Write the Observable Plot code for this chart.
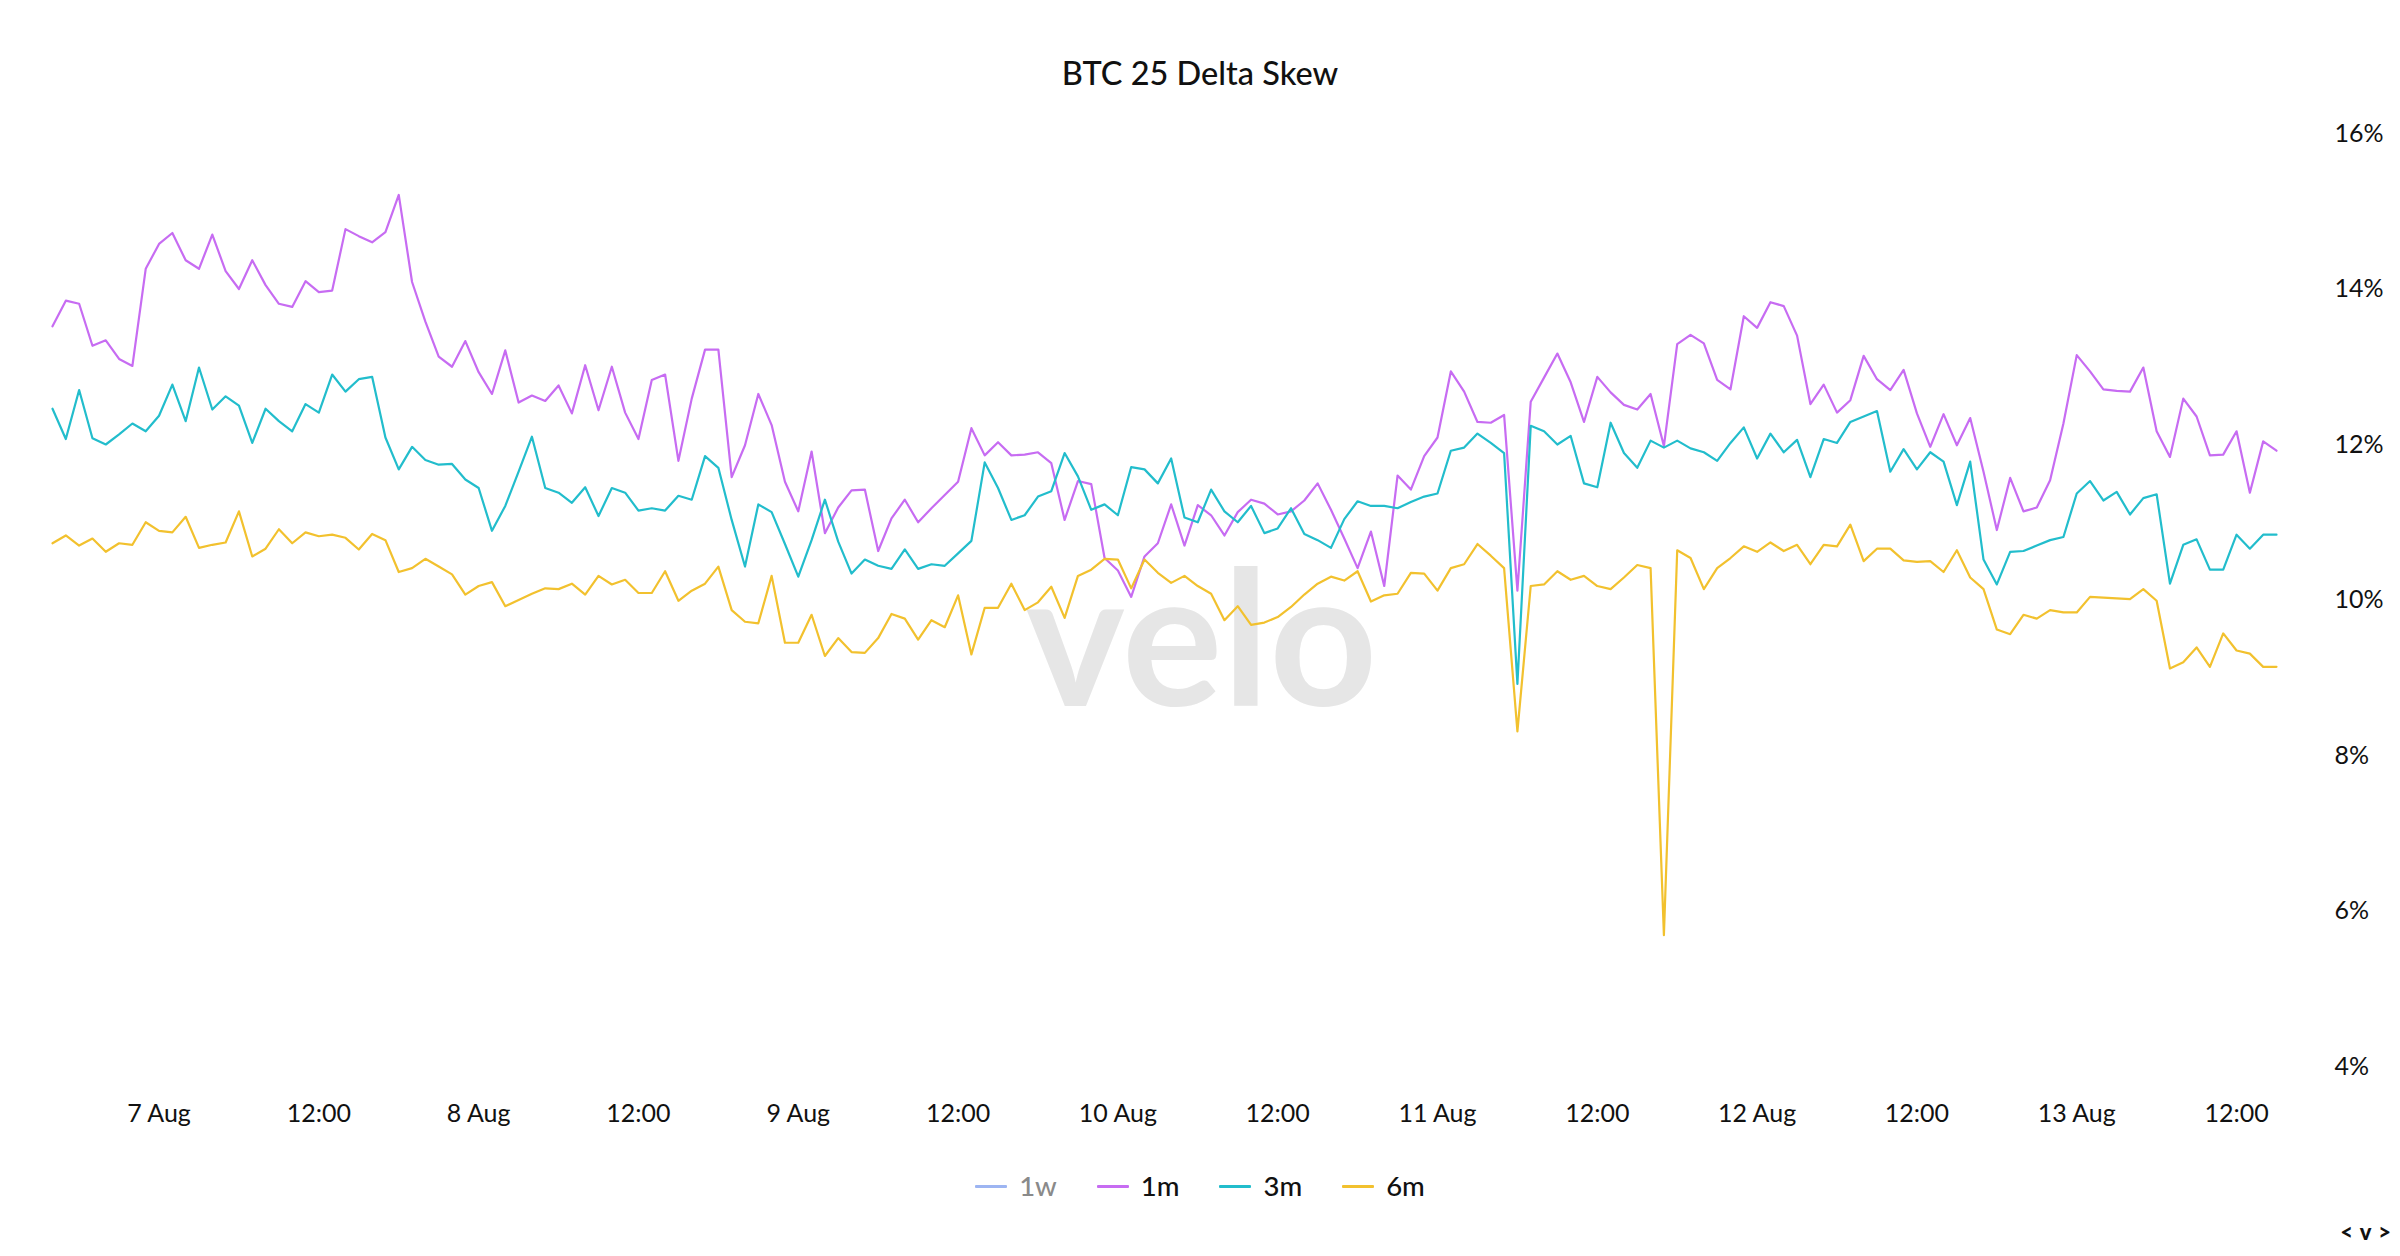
<!DOCTYPE html>
<html>
<head>
<meta charset="utf-8">
<script src="https://cdn.jsdelivr.net/npm/d3@7"></script>
<script src="https://cdn.jsdelivr.net/npm/@observablehq/plot@0.6"></script>
<style>
  html, body { margin: 0; padding: 0; background: #fff; }
  body { width: 2400px; height: 1256px; position: relative; overflow: hidden; font-family: Lato, "Noto Sans", sans-serif; color: #111; }
  #title { position: absolute; left: 0; top: 50px; width: 2400px; text-align: center; font-size: 32.5px; font-weight: 500; line-height: 46px; }
  #chart { position: absolute; left: 0; top: 110px; }
  #legend { position: absolute; left: 0; top: 1166px; width: 2400px; display: flex; justify-content: center; gap: 40px; font-size: 27.5px; font-weight: 500; line-height: 40px; }
  .item { display: flex; align-items: center; gap: 12px; }
  .sw { width: 32px; height: 3px; border-radius: 1px; }
  #nav { position: absolute; right: 8px; top: 1218px; font-size: 22px; font-weight: 900; letter-spacing: 1px; }
</style>
</head>
<body>
<div id="title">BTC 25 Delta Skew</div>
<div id="chart"></div>
<div id="legend"></div>
<div id="nav">&lt; v &gt;</div>
<script>
// Hourly samples from 6 Aug 16:00 to 13 Aug 15:00 (UTC)
const startTime = Date.UTC(2024, 7, 6, 16);
const seriesNames = ["1w", "1m", "3m", "6m"];
const seriesColors = ["#9db5f2", "#c76cf2", "#22bdcc", "#f2c12e"];
const hiddenSeries = ["1w"];

const skew1m = [
  13.52, 13.85, 13.81, 13.27, 13.34, 13.10, 13.01, 14.26, 14.58, 14.72, 14.37, 14.26, 14.70, 14.23, 14.00, 14.37, 14.05, 13.81, 13.77, 14.10, 13.96, 13.98, 14.77, 14.68, 14.60, 14.73, 15.21, 14.09, 13.58, 13.13, 13.00, 13.33, 12.93, 12.65, 13.21, 12.54, 12.63, 12.56, 12.76, 12.40, 13.02, 12.44,
  13.00, 12.41, 12.07, 12.83, 12.90, 11.79, 12.59, 13.22, 13.22, 11.58, 11.99, 12.65, 12.25, 11.52, 11.14, 11.91, 10.86, 11.19, 11.41, 11.42, 10.63, 11.05, 11.29, 11.00, 11.18, 11.35, 11.52, 12.21, 11.86, 12.03, 11.86, 11.87, 11.90, 11.76, 11.03, 11.53, 11.49, 10.54, 10.38, 10.04, 10.56,
  10.73, 11.23, 10.70, 11.22, 11.09, 10.83, 11.13, 11.29, 11.24, 11.10, 11.14, 11.28, 11.50, 11.16, 10.79, 10.41, 10.88, 10.18, 11.60, 11.42, 11.85, 12.09, 12.94, 12.68, 12.29, 12.28, 12.38, 10.12, 12.55, 12.86, 13.17, 12.80, 12.29, 12.87, 12.67, 12.51, 12.45, 12.65, 11.98, 13.29, 13.41,
  13.30, 12.83, 12.71, 13.65, 13.50, 13.83, 13.78, 13.40, 12.52, 12.77, 12.41, 12.57, 13.14, 12.84, 12.70, 12.96, 12.40, 11.97, 12.39, 11.99, 12.34, 11.65, 10.90, 11.57, 11.14, 11.19, 11.54, 12.27, 13.15, 12.94, 12.71, 12.69, 12.68, 12.99, 12.17, 11.84, 12.59, 12.36, 11.86, 11.87, 12.17, 11.38, 12.04, 11.92
];
const skew3m = [
  12.46, 12.07, 12.70, 12.08, 12.00, 12.13, 12.27, 12.17, 12.37, 12.77, 12.30, 12.99, 12.45, 12.62, 12.50, 12.02, 12.46, 12.30, 12.17, 12.52, 12.41, 12.90, 12.68, 12.84, 12.87, 12.09, 11.68, 11.97, 11.80, 11.74, 11.75, 11.55, 11.44, 10.89, 11.21, 11.65, 12.10, 11.44, 11.38, 11.25, 11.45, 11.08,
  11.44, 11.38, 11.15, 11.18, 11.15, 11.34, 11.29, 11.85, 11.70, 11.03, 10.43, 11.23, 11.13, 10.72, 10.30, 10.77, 11.29, 10.75, 10.34, 10.52, 10.44, 10.40, 10.65, 10.40, 10.46, 10.44, 10.60, 10.76, 11.77, 11.44, 11.03, 11.09, 11.33, 11.40, 11.89, 11.59, 11.16, 11.23, 11.09, 11.71, 11.68,
  11.50, 11.82, 11.06, 11.00, 11.42, 11.14, 11.00, 11.21, 10.86, 10.92, 11.18, 10.85, 10.77, 10.67, 11.04, 11.27, 11.21, 11.21, 11.18, 11.26, 11.33, 11.37, 11.92, 11.96, 12.14, 12.02, 11.89, 8.92, 12.24, 12.17, 12.00, 12.11, 11.50, 11.45, 12.28, 11.89, 11.70, 12.05, 11.96, 12.05, 11.95,
  11.90, 11.79, 12.02, 12.22, 11.82, 12.14, 11.90, 12.06, 11.58, 12.07, 12.02, 12.29, 12.36, 12.43, 11.65, 11.94, 11.68, 11.90, 11.78, 11.22, 11.78, 10.52, 10.20, 10.62, 10.63, 10.70, 10.77, 10.81, 11.37, 11.53, 11.28, 11.39, 11.10, 11.31, 11.36, 10.21, 10.71, 10.78, 10.39, 10.39, 10.84, 10.66, 10.84, 10.84
];
const skew6m = [
  10.73, 10.83, 10.70, 10.79, 10.62, 10.73, 10.71, 11.00, 10.89, 10.87, 11.07, 10.67, 10.71, 10.74, 11.14, 10.56, 10.66, 10.91, 10.73, 10.87, 10.82, 10.84, 10.80, 10.65, 10.85, 10.77, 10.36, 10.41, 10.53, 10.43, 10.33, 10.07, 10.18, 10.23, 9.92, 10.00, 10.08, 10.15, 10.14, 10.21, 10.07, 10.31,
  10.20, 10.26, 10.09, 10.09, 10.37, 9.99, 10.12, 10.21, 10.43, 9.87, 9.72, 9.70, 10.31, 9.45, 9.45, 9.81, 9.28, 9.51, 9.33, 9.32, 9.51, 9.82, 9.76, 9.49, 9.74, 9.65, 10.06, 9.30, 9.90, 9.90, 10.21, 9.87, 9.97, 10.17, 9.77, 10.31, 10.39, 10.53, 10.52, 10.15, 10.52,
  10.35, 10.22, 10.31, 10.18, 10.08, 9.74, 9.92, 9.68, 9.71, 9.78, 9.91, 10.07, 10.21, 10.30, 10.25, 10.37, 9.98, 10.06, 10.08, 10.35, 10.34, 10.12, 10.41, 10.46, 10.72, 10.57, 10.41, 8.31, 10.18, 10.20, 10.37, 10.26, 10.31, 10.18, 10.14, 10.29, 10.45, 10.41, 5.69, 10.64, 10.54,
  10.14, 10.41, 10.54, 10.69, 10.62, 10.74, 10.63, 10.71, 10.46, 10.71, 10.69, 10.97, 10.50, 10.66, 10.66, 10.51, 10.49, 10.50, 10.36, 10.64, 10.29, 10.14, 9.62, 9.56, 9.81, 9.76, 9.87, 9.84, 9.84, 10.04, 10.03, 10.02, 10.01, 10.14, 9.99, 9.12, 9.20, 9.39, 9.14, 9.57, 9.35, 9.31, 9.14, 9.14
];

const xTickLabels = ["7 Aug", "12:00", "8 Aug", "12:00", "9 Aug", "12:00", "10 Aug", "12:00", "11 Aug", "12:00", "12 Aug", "12:00", "13 Aug", "12:00"];
const yTicks = [4, 6, 8, 10, 12, 14, 16];
const watermark = ["velo"];

const hour = 3600e3;
const bySeries = {"1m": skew1m, "3m": skew3m, "6m": skew6m};
const data = Object.entries(bySeries).flatMap(([s, vals]) =>
  vals.map((v, i) => ({series: s, time: new Date(startTime + i * hour), value: v})));

const firstTick = Date.UTC(2024, 7, 7, 0);
const xTicks = xTickLabels.map((_, i) => new Date(firstTick + i * 12 * hour));
const tickLabelOf = new Map(xTicks.map((t, i) => [+t, xTickLabels[i]]));
const nPts = skew1m.length;

const chart = Plot.plot({
  width: 2400,
  height: 1030,
  marginLeft: 52,
  marginRight: 124,
  marginTop: 23,
  marginBottom: 74,
  style: {fontFamily: "Lato, 'Noto Sans', sans-serif", color: "#111", background: "white"},
  x: {type: "utc", domain: [new Date(startTime), new Date(startTime + (nPts - 1) * hour)]},
  y: {domain: [4, 16]},
  color: {domain: seriesNames, range: seriesColors},
  marks: [
    Plot.text(watermark, {text: d => d, frameAnchor: "middle", dx: 37, dy: 46, fontSize: 188, fontWeight: 700, fill: "#e6e6e6"}),
    Plot.axisX({ticks: xTicks, tickFormat: d => tickLabelOf.get(+d), tickSize: 0, tickPadding: 38, fontSize: 25, label: null, fill: "#111"}),
    Plot.axisY({anchor: "right", ticks: yTicks, tickFormat: d => d + "%", tickSize: 0, tickPadding: 58, fontSize: 25, label: null, textAnchor: "start", fill: "#111"}),
    Plot.lineY(data, {x: "time", y: "value", z: "series", stroke: "series", strokeWidth: 2.2, strokeLinejoin: "round"})
  ]
});
document.getElementById("chart").appendChild(chart);

const legend = document.getElementById("legend");
seriesNames.forEach((s, i) => {
  const item = document.createElement("div");
  item.className = "item";
  const sw = document.createElement("div");
  sw.className = "sw";
  sw.style.background = seriesColors[i];
  const lab = document.createElement("span");
  lab.textContent = s;
  lab.style.color = hiddenSeries.includes(s) ? "#8a8a8a" : "#111";
  item.appendChild(sw);
  item.appendChild(lab);
  legend.appendChild(item);
});
</script>
</body>
</html>
